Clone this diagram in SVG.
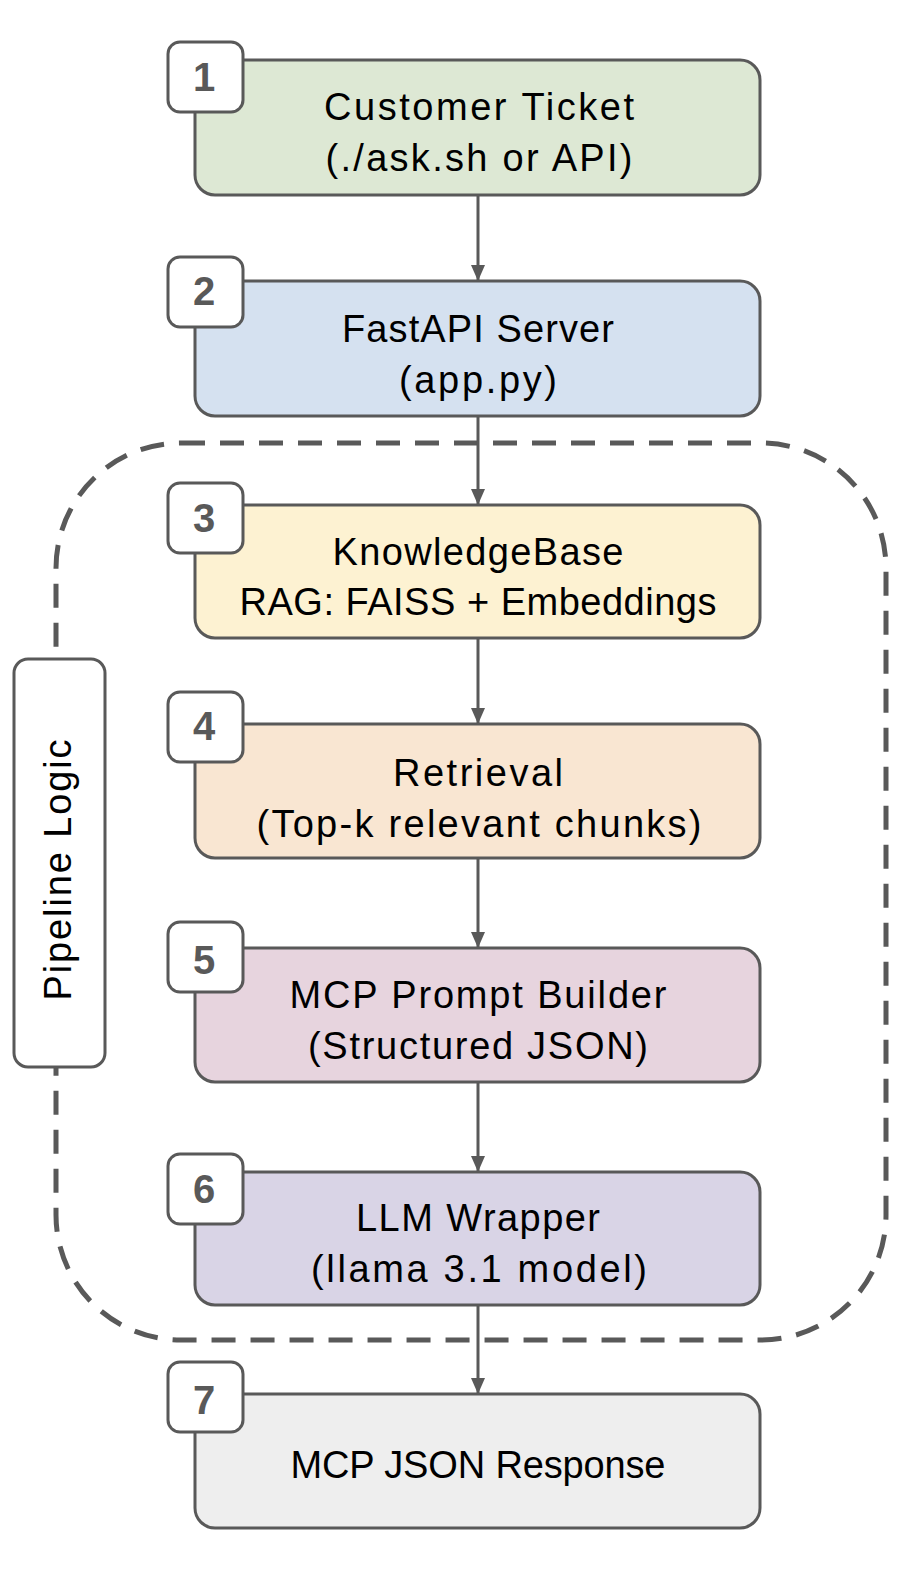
<svg xmlns="http://www.w3.org/2000/svg" width="914" height="1586" viewBox="0 0 914 1586">
<defs>
<marker id="ah" markerWidth="16" markerHeight="18" refX="16" refY="9" orient="auto" markerUnits="userSpaceOnUse" viewBox="0 0 16 18">
<path d="M0,2 L16,9 L0,16 Z" fill="#595959"/>
</marker>
<style>
.node{stroke:#595959;stroke-width:3}
.badge{fill:#ffffff;stroke:#595959;stroke-width:3}
.num{font-family:"Liberation Sans",Arial,sans-serif;font-weight:bold;font-size:40px;fill:#595959;text-anchor:middle}
.lbl{font-family:"Liberation Sans",Arial,sans-serif;font-size:38px;fill:#000000;text-anchor:middle}
.conn{stroke:#595959;stroke-width:3;fill:none}
</style>
</defs>
<rect width="914" height="1586" fill="#ffffff"/>
<g id="pipeline-container">
<rect x="56" y="443" width="830" height="897" rx="125" ry="125" fill="none" stroke="#595959" stroke-width="5" stroke-dasharray="24 15"/>
</g>
<g id="pipeline-label">
<rect x="14" y="659" width="91" height="408" rx="14" fill="#ffffff" stroke="#595959" stroke-width="3"/>
<text class="lbl" transform="translate(71,870) rotate(-90)" textLength="261" lengthAdjust="spacing">Pipeline Logic</text>
</g>
<g id="connectors">
<line class="conn" x1="478" y1="195" x2="478" y2="281" marker-end="url(#ah)"/>
<line class="conn" x1="478" y1="416" x2="478" y2="505" marker-end="url(#ah)"/>
<line class="conn" x1="478" y1="638" x2="478" y2="724" marker-end="url(#ah)"/>
<line class="conn" x1="478" y1="858" x2="478" y2="948" marker-end="url(#ah)"/>
<line class="conn" x1="478" y1="1082" x2="478" y2="1172" marker-end="url(#ah)"/>
<line class="conn" x1="478" y1="1305" x2="478" y2="1394" marker-end="url(#ah)"/>
</g>
<g id="node1">
<rect class="node" x="195" y="60" width="565" height="135" rx="20" fill="#dde8d4"/>
<rect class="badge" x="168" y="42" width="75" height="70" rx="12"/>
<text class="num" x="204" y="91">1</text>
<text class="lbl" x="479" y="120" textLength="310" lengthAdjust="spacing">Customer Ticket</text>
<text class="lbl" x="479" y="171" textLength="307" lengthAdjust="spacing">(./ask.sh or API)</text>
</g>
<g id="node2">
<rect class="node" x="195" y="281" width="565" height="135" rx="20" fill="#d5e1f0"/>
<rect class="badge" x="168" y="257" width="75" height="70" rx="12"/>
<text class="num" x="204" y="305">2</text>
<text class="lbl" x="478" y="342" textLength="272" lengthAdjust="spacing">FastAPI Server</text>
<text class="lbl" x="478" y="393" textLength="158" lengthAdjust="spacing">(app.py)</text>
</g>
<g id="node3">
<rect class="node" x="195" y="505" width="565" height="133" rx="20" fill="#fdf2d2"/>
<rect class="badge" x="168" y="483" width="75" height="70" rx="12"/>
<text class="num" x="204" y="532">3</text>
<text class="lbl" x="478" y="565" textLength="291" lengthAdjust="spacing">KnowledgeBase</text>
<text class="lbl" x="478" y="615" textLength="477" lengthAdjust="spacing">RAG: FAISS + Embeddings</text>
</g>
<g id="node4">
<rect class="node" x="195" y="724" width="565" height="134" rx="20" fill="#f9e6d2"/>
<rect class="badge" x="168" y="692" width="75" height="70" rx="12"/>
<text class="num" x="204" y="740">4</text>
<text class="lbl" x="478" y="786" textLength="170" lengthAdjust="spacing">Retrieval</text>
<text class="lbl" x="479" y="837" textLength="445" lengthAdjust="spacing">(Top-k relevant chunks)</text>
</g>
<g id="node5">
<rect class="node" x="195" y="948" width="565" height="134" rx="20" fill="#e7d4de"/>
<rect class="badge" x="168" y="922" width="75" height="70" rx="12"/>
<text class="num" x="204" y="974">5</text>
<text class="lbl" x="478" y="1008" textLength="377" lengthAdjust="spacing">MCP Prompt Builder</text>
<text class="lbl" x="478" y="1059" textLength="340" lengthAdjust="spacing">(Structured JSON)</text>
</g>
<g id="node6">
<rect class="node" x="195" y="1172" width="565" height="133" rx="20" fill="#d9d4e6"/>
<rect class="badge" x="168" y="1154" width="75" height="70" rx="12"/>
<text class="num" x="204" y="1203">6</text>
<text class="lbl" x="478" y="1231" textLength="244" lengthAdjust="spacing">LLM Wrapper</text>
<text class="lbl" x="479" y="1282" textLength="336" lengthAdjust="spacing">(llama 3.1 model)</text>
</g>
<g id="node7">
<rect class="node" x="195" y="1394" width="565" height="134" rx="20" fill="#eeeeee"/>
<rect class="badge" x="168" y="1362" width="75" height="70" rx="12"/>
<text class="num" x="204" y="1414">7</text>
<text class="lbl" x="478" y="1478" textLength="375" lengthAdjust="spacing">MCP JSON Response</text>
</g>
</svg>
